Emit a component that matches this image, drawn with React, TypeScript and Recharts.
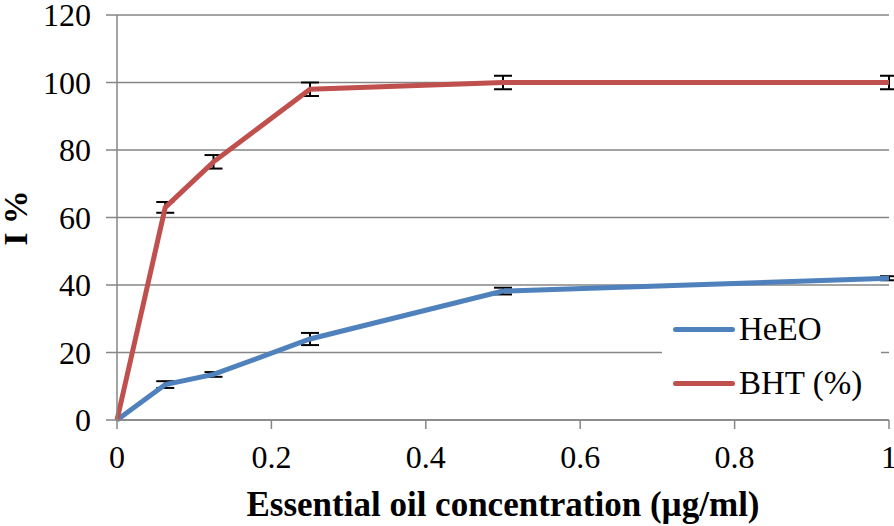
import { LineChart, Line, XAxis, YAxis, CartesianGrid, Legend, ErrorBar } from 'recharts';

const concentrations = [0, 0.0625, 0.125, 0.25, 0.5, 1];
const heeoValues = [0, 10.5, 13.5, 24, 38.2, 42];
const heeoErrors = [0, 1, 0.7, 1.8, 1, 0.6];
const bhtValues = [0, 63, 76.5, 98, 100, 100];
const bhtErrors = [0, 1.6, 2, 2, 2, 2];
const xTicks = [0, 0.2, 0.4, 0.6, 0.8, 1];
const yTicks = [0, 20, 40, 60, 80, 100, 120];

const BLUE = '#4F81BD';
const RED = '#C0504D';
const GRID = '#868686';
const FONT = '"Liberation Serif", "Times New Roman", serif';

const data = concentrations.map((c, i) => ({
  c,
  heeo: heeoValues[i],
  heeoErr: heeoErrors[i],
  bht: bhtValues[i],
  bhtErr: bhtErrors[i],
}));

const legendItems = [
  { label: 'HeEO', color: BLUE },
  { label: 'BHT (%)', color: RED },
];

function XTick({ x, y, payload }: any) {
  return (
    <text x={x} y={y} dy="0.71em" textAnchor="middle" fontFamily={FONT} fontSize={32} fill="#000">
      {String(payload.value)}
    </text>
  );
}

function YTick({ x, y, payload }: any) {
  return (
    <text x={x} y={y} dy="0.355em" textAnchor="end" fontFamily={FONT} fontSize={32} fill="#000">
      {String(payload.value)}
    </text>
  );
}

function LegendBox() {
  return (
    <div style={{ background: '#fff', width: '100%', height: '100%', position: 'relative' }}>
      {legendItems.map((item, i) => (
        <div
          key={item.label}
          style={{
            position: 'absolute',
            left: 11,
            top: 7 + i * 54,
            display: 'flex',
            alignItems: 'center',
            fontFamily: FONT,
            fontSize: 33,
            color: '#000',
            lineHeight: '40px',
            whiteSpace: 'nowrap',
          }}
        >
          <span
            style={{
              display: 'inline-block',
              width: 62,
              height: 5,
              borderRadius: 3,
              background: item.color,
              marginRight: 4,
            }}
          />
          {item.label}
        </div>
      ))}
    </div>
  );
}

export default function App() {
  return (
    <div style={{ position: 'absolute', left: 0, top: 0, background: '#fff' }}>
      <LineChart width={894} height={526} data={data} margin={{ top: 15, right: 5, left: 0, bottom: 0 }}>
        <CartesianGrid vertical={false} stroke={GRID} strokeWidth={1.5} />
        <XAxis
          dataKey="c"
          type="number"
          domain={[0, 1]}
          ticks={xTicks}
          height={106}
          stroke={GRID}
          strokeWidth={1.5}
          tickSize={9}
          tickMargin={16}
          tick={<XTick />}
          label={{
            content: () => (
              <text
                x={503}
                y={516}
                textAnchor="middle"
                fontFamily={FONT}
                fontWeight="bold"
                fontSize={35}
                fill="#000"
              >
                Essential oil concentration (µg/ml)
              </text>
            ),
          }}
        />
        <YAxis
          type="number"
          domain={[0, 120]}
          ticks={yTicks}
          width={117}
          stroke={GRID}
          strokeWidth={1.5}
          tickSize={11}
          tickMargin={15}
          tick={<YTick />}
          label={{
            content: () => (
              <text
                x={27}
                y={218}
                transform="rotate(-90 27 218)"
                textAnchor="middle"
                fontFamily={FONT}
                fontWeight="bold"
                fontSize={34}
                fill="#000"
              >
                I %
              </text>
            ),
          }}
        />
        <Legend
          layout="vertical"
          align="center"
          verticalAlign="middle"
          wrapperStyle={{ position: 'absolute', left: 662, top: 302, width: 219, height: 104 }}
          content={() => <LegendBox />}
        />
        <Line
          type="linear"
          dataKey="heeo"
          stroke={BLUE}
          strokeWidth={5}
          dot={false}
          isAnimationActive={false}
        >
          <ErrorBar dataKey="heeoErr" direction="y" width={9} stroke="#000" strokeWidth={2} />
        </Line>
        <Line
          type="linear"
          dataKey="bht"
          stroke={RED}
          strokeWidth={5}
          dot={false}
          isAnimationActive={false}
        >
          <ErrorBar dataKey="bhtErr" direction="y" width={9} stroke="#000" strokeWidth={2} />
        </Line>
      </LineChart>
    </div>
  );
}
